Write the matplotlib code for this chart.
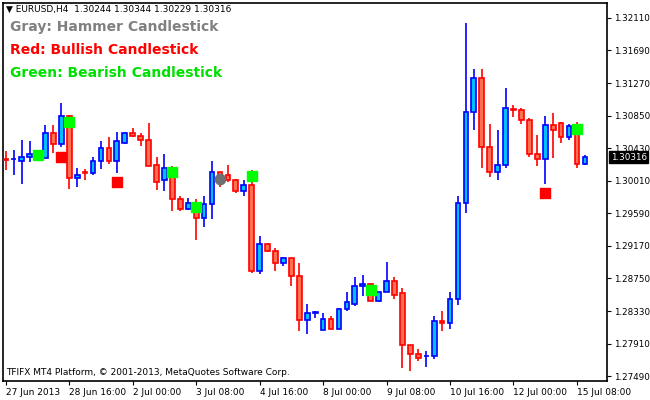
import numpy as np
import matplotlib
matplotlib.use("Agg")
import matplotlib.pyplot as plt

# ── EURUSD H4 candles ──
opens = [1.3029, 1.3029, 1.3027, 1.3031, 1.3036, 1.3030, 1.3063, 1.3048, 1.3085, 1.3004,
         1.3012, 1.3011, 1.3026, 1.3043, 1.3027, 1.3050, 1.3062, 1.3059, 1.3054, 1.3021,
         1.3002, 1.3018, 1.2977, 1.2965, 1.2971, 1.2953, 1.2971, 1.3012, 1.3008, 1.3002,
         1.2988, 1.2995, 1.2884, 1.2919, 1.2911, 1.2895, 1.2901, 1.2878, 1.2822, 1.2831,
         1.2808, 1.2823, 1.2810, 1.2836, 1.2842, 1.2865, 1.2868, 1.2846, 1.2858, 1.2872,
         1.2856, 1.2789, 1.2778, 1.2775, 1.2775, 1.2820, 1.2817, 1.2849, 1.2972, 1.3090,
         1.3133, 1.3044, 1.3012, 1.3021, 1.3093, 1.3092, 1.3080, 1.3036, 1.3029, 1.3073,
         1.3076, 1.3058, 1.3072, 1.3023]
highs = [1.3039, 1.3041, 1.3053, 1.3052, 1.3040, 1.3073, 1.3073, 1.3101, 1.3086, 1.3018,
         1.3016, 1.3031, 1.3052, 1.3058, 1.3064, 1.3064, 1.3069, 1.3063, 1.3076, 1.3031,
         1.3035, 1.3020, 1.2981, 1.2979, 1.2977, 1.2981, 1.3027, 1.3012, 1.3021, 1.3003,
         1.3002, 1.3015, 1.2930, 1.2921, 1.2914, 1.2903, 1.2901, 1.2895, 1.2842, 1.2833,
         1.2831, 1.2826, 1.2837, 1.2858, 1.2877, 1.2879, 1.2869, 1.2858, 1.2896, 1.2877,
         1.2863, 1.2789, 1.2784, 1.2781, 1.2827, 1.2833, 1.2858, 1.2981, 1.3205, 1.3145,
         1.3145, 1.3074, 1.3066, 1.3120, 1.3099, 1.3095, 1.3082, 1.3060, 1.3085, 1.3089,
         1.3077, 1.3074, 1.3077, 1.3034]
lows = [1.3015, 1.3009, 1.2997, 1.3025, 1.3030, 1.3030, 1.3037, 1.3044, 1.2990, 1.2993,
        1.3002, 1.3009, 1.3016, 1.3023, 1.3011, 1.3048, 1.3057, 1.3046, 1.3020, 1.2989,
        1.2988, 1.2962, 1.2962, 1.2963, 1.2925, 1.2942, 1.2952, 1.2993, 1.2999, 1.2985,
        1.2981, 1.2882, 1.2881, 1.2909, 1.2884, 1.2891, 1.2865, 1.2807, 1.2803, 1.2824,
        1.2808, 1.2810, 1.2810, 1.2833, 1.2840, 1.2852, 1.2846, 1.2844, 1.2858, 1.2849,
        1.2759, 1.2755, 1.2769, 1.2761, 1.2771, 1.2807, 1.2810, 1.2841, 1.2960, 1.3066,
        1.3017, 1.3006, 1.3002, 1.3018, 1.3083, 1.3074, 1.3032, 1.3020, 1.2997, 1.3030,
        1.3050, 1.3053, 1.3017, 1.3021]
closes = [1.3028, 1.3029, 1.3032, 1.3036, 1.3032, 1.3063, 1.3048, 1.3085, 1.3004, 1.3008,
          1.3011, 1.3026, 1.3043, 1.3027, 1.3052, 1.3063, 1.3059, 1.3054, 1.3020, 1.3000,
          1.3017, 1.2977, 1.2965, 1.2972, 1.2953, 1.2971, 1.3012, 1.3002, 1.3002, 1.2988,
          1.2995, 1.2884, 1.2919, 1.2910, 1.2895, 1.2901, 1.2878, 1.2822, 1.2831, 1.2831,
          1.2823, 1.2810, 1.2836, 1.2844, 1.2865, 1.2868, 1.2846, 1.2858, 1.2872, 1.2854,
          1.2789, 1.2777, 1.2773, 1.2775, 1.2820, 1.2817, 1.2849, 1.2972, 1.3090, 1.3133,
          1.3044, 1.3012, 1.3021, 1.3095, 1.3092, 1.3080, 1.3036, 1.3029, 1.3073, 1.3066,
          1.3058, 1.3072, 1.3023, 1.3031]

# pattern markers: (candle index, price)
green_idx = [4, 8, 21, 24, 31, 46, 72]
green_px = [1.3034, 1.3077, 1.3012, 1.2967, 1.3007, 1.2860, 1.3068]
red_idx = [7, 14, 68]
red_px = [1.3032, 1.3000, 1.2985]
gray_idx = [27]
gray_px = [1.3003]

yticks = [1.32110, 1.31690, 1.31270, 1.30850, 1.30430, 1.30010,
          1.29590, 1.29170, 1.28750, 1.28330, 1.27910, 1.27490]
xtick_idx = [0, 8, 16, 24, 32, 40, 48, 56, 64, 72]
xtick_lbl = ["27 Jun 2013", "28 Jun 16:00", "2 Jul 00:00", "3 Jul 08:00", "4 Jul 16:00",
             "8 Jul 00:00", "9 Jul 08:00", "10 Jul 16:00", "12 Jul 00:00", "15 Jul 08:00"]
last_price = 1.30316

BULL_EDGE, BULL_FILL = "#0000ff", "#00bfff"
BEAR_EDGE, BEAR_FILL = "#ff0000", "#ff7050"

fig = plt.figure(figsize=(6.5, 4), dpi=100)
ax = fig.add_axes([0.004, 0.048, 0.930, 0.944])

x = np.arange(len(opens))
o, h, l, c = map(np.array, (opens, highs, lows, closes))
bull = c >= o
edge = np.where(bull, BULL_EDGE, BEAR_EDGE)
fill = np.where(bull, BULL_FILL, BEAR_FILL)

ax.vlines(x, l, h, colors=edge, lw=1.2, zorder=2)
bottom = np.minimum(o, c)
height = np.maximum(np.abs(c - o), 0.00003)
ax.bar(x, height, 0.6, bottom=bottom, color=fill, edgecolor=edge, lw=1.2, zorder=3)

ax.scatter(green_idx, green_px, marker="s", s=55, color="#00ff00", zorder=4)
ax.scatter(red_idx, red_px, marker="s", s=55, color="#ff0000", zorder=4)
ax.scatter(gray_idx, gray_px, marker="o", s=55, color="#707070", zorder=4)

ax.set_xlim(-0.4, 75.8)
ax.set_ylim(1.27430, 1.32300)

ax.yaxis.tick_right()
ax.set_yticks(yticks)
ax.set_yticklabels([f"{v:.5f}" for v in yticks], fontsize=6.3)
ax.tick_params(axis="y", length=3, pad=2)
ax.set_xticks(xtick_idx)
ax.set_xticklabels(xtick_lbl, fontsize=6.5, ha="left")
ax.tick_params(axis="x", length=3, pad=2)
for spine in ax.spines.values():
    spine.set_linewidth(1.2)

# last price tag on the price axis
ax.text(1.006, last_price, f"{last_price:.5f}", transform=ax.get_yaxis_transform(),
        fontsize=6.3, color="white", va="center", ha="left", zorder=5,
        bbox=dict(boxstyle="square,pad=0.15", fc="black", ec="black"))

ax.text(0.006, 0.995, "\u25bc EURUSD,H4  1.30244 1.30344 1.30229 1.30316", transform=ax.transAxes,
        fontsize=6.5, va="top")
ax.text(0.012, 0.955, "Gray: Hammer Candlestick", transform=ax.transAxes,
        fontsize=10, fontweight="bold", color="#808080", va="top")
ax.text(0.012, 0.895, "Red: Bullish Candlestick", transform=ax.transAxes,
        fontsize=10, fontweight="bold", color="#ff0000", va="top")
ax.text(0.012, 0.835, "Green: Bearish Candlestick", transform=ax.transAxes,
        fontsize=10, fontweight="bold", color="#00e000", va="top")
ax.text(0.006, 0.01, "TFIFX MT4 Platform, \u00a9 2001-2013, MetaQuotes Software Corp.",
        transform=ax.transAxes, fontsize=6.5, va="bottom")

fig.savefig("out.png", dpi=100)
